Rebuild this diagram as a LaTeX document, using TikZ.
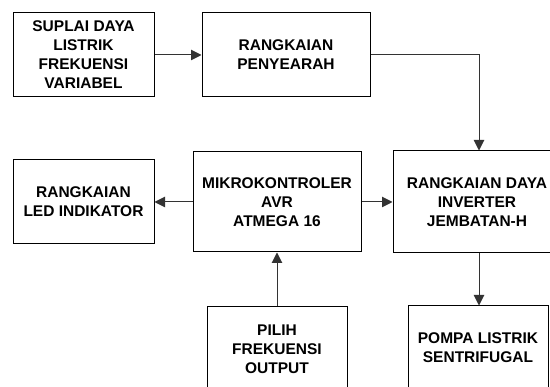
\documentclass[tikz,border=0pt]{standalone}
\usepackage{fontspec}
\setmainfont{Liberation Sans}
\usetikzlibrary{arrows.meta}
\begin{document}
\begin{tikzpicture}[x=1pt,y=-1pt,
  blk/.style={draw=black,line width=1pt,align=center,inner sep=0pt,
    font=\fontsize{15.5}{19}\selectfont\bfseries},
  conn/.style={draw=black!80,line width=1pt,-{Triangle[length=10.5pt,width=10.5pt]}}]
\useasboundingbox (0,0) rectangle (550,387);
\begin{scope}
\clip (0,0) rectangle (550,387);
\node[blk,minimum width=141pt,minimum height=84pt] (sup) at (83.5,55) {SUPLAI DAYA\\LISTRIK\\FREKUENSI\\VARIABEL};
\node[blk,minimum width=168pt,minimum height=84pt] (rect) at (286,55) {RANGKAIAN\\PENYEARAH};
\node[blk,minimum width=168pt,minimum height=102pt] (inv) at (477,202) {RANGKAIAN DAYA\\INVERTER\\JEMBATAN-H};
\node[blk,minimum width=168pt,minimum height=100pt] (mcu) at (277,202) {MIKROKONTROLER\\AVR\\ATMEGA 16};
\node[blk,minimum width=141pt,minimum height=84pt] (led) at (83.5,202) {RANGKAIAN\\LED INDIKATOR};
\node[blk,minimum width=140pt,minimum height=84pt] (sel) at (277,349) {PILIH\\FREKUENSI\\OUTPUT};
\node[blk,minimum width=140pt,minimum height=84pt] (pump) at (478,348) {POMPA LISTRIK\\SENTRIFUGAL};
\coordinate (c1) at (479,55);
\draw[conn] (sup.east) -- (rect.west);
\draw[conn] (rect.east) -- (c1) -- (c1 |- inv.north);
\draw[conn] (mcu.east) -- (inv.west);
\draw[conn] (mcu.west) -- (led.east);
\draw[conn] (sel.north) -- (mcu.south);
\draw[conn] (c1 |- inv.south) -- (c1 |- pump.north);
\end{scope}
\end{tikzpicture}
\end{document}
